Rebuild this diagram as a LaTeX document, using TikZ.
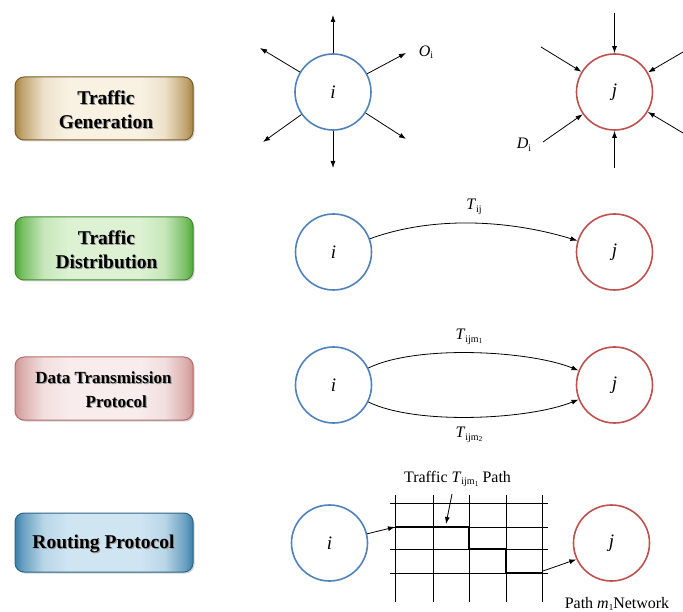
\documentclass[tikz,border=0pt]{standalone}
\usepackage{fontspec}
\setmainfont{Liberation Serif}
\usetikzlibrary{arrows.meta,shadows}
\definecolor{cblue}{HTML}{4F81BD}
\definecolor{cred}{HTML}{C0504D}
\definecolor{genE}{HTML}{A8823E}
\definecolor{genM}{HTML}{F9F2E3}
\definecolor{genB}{HTML}{7A5C28}
\definecolor{disE}{HTML}{4CA834}
\definecolor{disM}{HTML}{DCF2D2}
\definecolor{disB}{HTML}{3F8A2E}
\definecolor{datE}{HTML}{CF9494}
\definecolor{datM}{HTML}{F8ECEC}
\definecolor{datB}{HTML}{B86A6A}
\definecolor{rouE}{HTML}{3A7FAA}
\definecolor{rouM}{HTML}{CFE5F2}
\definecolor{rouB}{HTML}{2C6689}
\newcommand\mkshade[3]{%
  \pgfdeclarehorizontalshading{#1}{100bp}{%
    color(0bp)=(#2); color(25bp)=(#2); color(27bp)=(#2!70!#3);
    color(33bp)=(#3!85!#2); color(40bp)=(#3); color(60bp)=(#3);
    color(67bp)=(#3!85!#2); color(73bp)=(#2!70!#3); color(75bp)=(#2); color(100bp)=(#2)}}
\mkshade{genS}{genE}{genM}
\mkshade{disS}{disE}{disM}
\mkshade{datS}{datE}{datM}
\mkshade{rouS}{rouE}{rouM}
\newcommand\sbs[1]{\raisebox{-0.35ex}{\fontsize{10}{10}\selectfont #1}}
\newcommand\sbm[1]{\raisebox{-0.35ex}{\fontsize{10}{10}\selectfont ijm\raisebox{-0.3ex}{\fontsize{7.5}{7.5}\selectfont #1}}}
\tikzset{
  cir/.style={circle, minimum size=76pt, inner sep=0pt, line width=1.6pt, font=\fontsize{19}{19}\selectfont\itshape},
  ci/.style={cir, draw=cblue},
  cj/.style={cir, draw=cred},
  arr/.style={-{Latex[length=7pt,width=5pt]}, line width=0.8pt},
  lbl/.style={font=\fontsize{16}{16}\selectfont, inner sep=1pt},
  btn/.style={rounded corners=9pt, minimum width=178pt, minimum height=63pt, line width=1pt,
     drop shadow={shadow xshift=1.5pt, shadow yshift=-1.5pt, opacity=0.35}},
  btxt/.style={align=center, font=\fontsize{19.5}{24}\selectfont\bfseries, inner sep=0pt},
  bshadow/.style={btxt, text=black!40},
  grid/.style={line width=0.8pt},
  route/.style={line width=1.6pt},
}
\begin{document}
\begin{tikzpicture}[x=1pt,y=-1pt]
\useasboundingbox (0,0) rectangle (683,612);
% ---------- buttons ----------
\node[btn, draw=genB, shading=genS] (b1) at (104,108.5) {};
\node[bshadow] (b1s) at (107,110.5) {Traffic\\Generation};
\node[btxt] (b1t) at (106,109.5) {Traffic\\Generation};
\node[btn, draw=disB, shading=disS] (b2) at (104,248.5) {};
\node[bshadow] (b2s) at (107.5,250.5) {Traffic\\Distribution};
\node[btxt] (b2t) at (106.5,249.5) {Traffic\\Distribution};
\node[btn, draw=datB, shading=datS] (b3) at (104,388.5) {};
\node[bshadow, font=\fontsize{17}{24}\selectfont\bfseries] (b3s) at (104.5,391) {Data Transmission\\\hspace*{1.5em}Protocol};
\node[btxt, font=\fontsize{17}{24}\selectfont\bfseries] (b3t) at (103.5,390) {Data Transmission\\\hspace*{1.5em}Protocol};
\node[btn, minimum height=59pt, draw=rouB, shading=rouS] (b4) at (104,542.5) {};
\node[bshadow] (b4s) at (104.5,544.5) {Routing Protocol};
\node[btxt] (b4t) at (103.5,543.5) {Routing Protocol};
% ---------- row 1 ----------
\node[ci] (i1) at (333,92) {i};
\node[cj] (j1) at (614.5,92) {j};
\coordinate (o1) at (333,15);
\coordinate (o2) at (406,53);
\coordinate (o3) at (406,139);
\coordinate (o4) at (333,168);
\coordinate (o5) at (263,142);
\coordinate (o6) at (260,48);
\foreach \k in {1,...,6} \draw[arr] (i1) -- (o\k);
\coordinate (d1) at (614.5,13);
\coordinate (d2) at (683,52);
\coordinate (d3) at (683,133);
\coordinate (d4) at (614.5,168);
\coordinate (d5) at (543,142);
\coordinate (d6) at (541,47);
\foreach \k in {1,...,6} \draw[arr] (d\k) -- (j1);
\node[lbl] (lo) at (426,52) {\textit{O}\sbs{i}};
\node[lbl] (ld) at (524,145) {\textit{D}\sbs{i}};
% ---------- row 2 ----------
\node[ci] (i2) at (333.5,252) {i};
\node[cj] (j2) at (614.5,252) {j};
\draw[arr] (i2) to[out=20,in=163,looseness=0.85] (j2);
\node[lbl] (t2) at (474,207) {\textit{T}\sbs{ij}};
% ---------- row 3 ----------
\node[ci] (i3) at (333.5,385) {i};
\node[cj] (j3) at (614.5,385) {j};
\draw[arr] (i3) to[out=26,in=158,looseness=0.65] (j3);
\draw[arr] (i3) to[out=-26,in=-158,looseness=0.65] (j3);
\node[lbl] (t3a) at (469,337) {\textit{T}\sbm{1}};
\node[lbl] (t3b) at (469,435) {\textit{T}\sbm{2}};
% ---------- row 4 ----------
\node[ci] (i4) at (329.5,543) {i};
\node[cj] (j4) at (611.5,543) {j};
\foreach \x in {395,433,469,506,542} \draw[grid] (\x,495) -- (\x,602);
\foreach \y in {503,527,549,573} \draw[grid] (390,\y) -- (548,\y);
\draw[route] (395,527) -- (469,527) -- (469,549) -- (506,549) -- (506,573) -- (542,573);
\coordinate (gin) at (395,527);
\coordinate (gout) at (543,571);
\draw[arr] (i4) -- (gin);
\draw[arr] (gout) -- (j4.205);
\node[lbl] (t4) at (457.5,479) {Traffic \textit{T}\sbm{1} Path};
\coordinate (tp) at (446,524);
\draw[arr] (452,494) -- (tp);
\node[lbl] (net) at (617,604) {Path \textit{m}\raisebox{-0.35ex}{\fontsize{9}{9}\selectfont 1}Network};
\end{tikzpicture}
\end{document}
